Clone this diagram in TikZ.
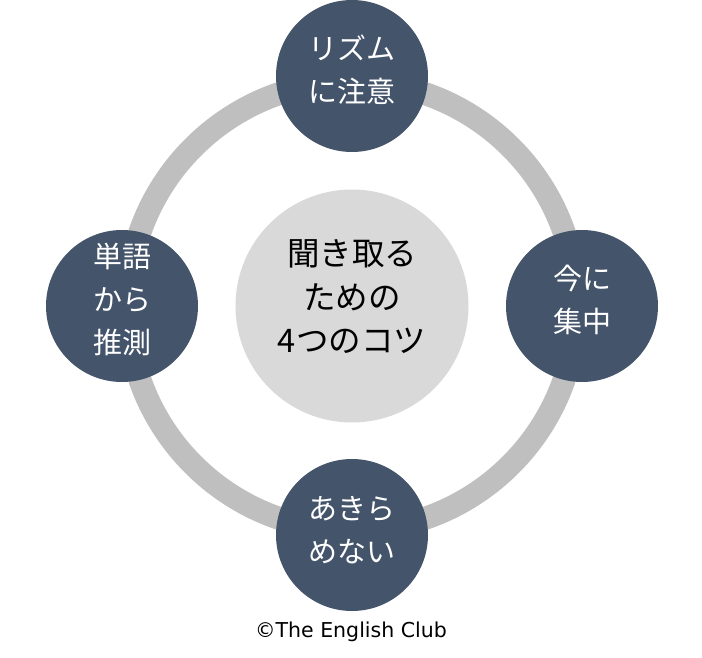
\documentclass[tikz,border=0pt]{standalone}
\usepackage{fontspec}
\newfontfamily\cjk{Noto Sans CJK JP}
\setmainfont{DejaVu Sans}
\definecolor{navy}{HTML}{44546A}
\definecolor{ringg}{HTML}{BFBFBF}
\definecolor{hubg}{HTML}{D9D9D9}
\tikzset{
 x=1pt,y=1pt,
 sat/.style={circle,fill=navy,minimum size=152pt,inner sep=0pt,text=white,align=center,font=\fontsize{29}{43}\selectfont\cjk},
 hub/.style={circle,fill=hubg,minimum size=233pt,inner sep=0pt,text=black,align=center,font=\fontsize{32.5}{43.5}\selectfont\cjk},
}
\begin{document}
\begin{tikzpicture}
\useasboundingbox (0,0) rectangle (702,-658);
\fill[white] (0,0) rectangle (702,-658);
\coordinate (c) at (352,-306);
\draw[ringg,line width=23pt] (c) circle (224.5);
\node[hub] (h) at (c) {};
\node[sat] (n) at (352,-76) {};
\node[sat] (e) at (582,-306) {};
\node[sat] (s) at (352,-535) {};
\node[sat] (w) at (122,-306) {};
\node[hub,fill=none,yshift=9pt] at (h) {聞き取る\\ための\\4つのコツ};
\node[sat,fill=none,yshift=6.5pt] at (n) {リズム\\に注意};
\node[sat,fill=none,yshift=6.5pt] at (e) {今に\\集中};
\node[sat,fill=none,yshift=5pt] at (s) {あきら\\めない};
\node[sat,fill=none,yshift=6.5pt] at (w) {単語\\から\\推測};
\node[font=\fontsize{20.5}{24}\selectfont,text=black,inner sep=0pt] (cr) at (351,-632) {©The English Club};
\end{tikzpicture}
\end{document}
